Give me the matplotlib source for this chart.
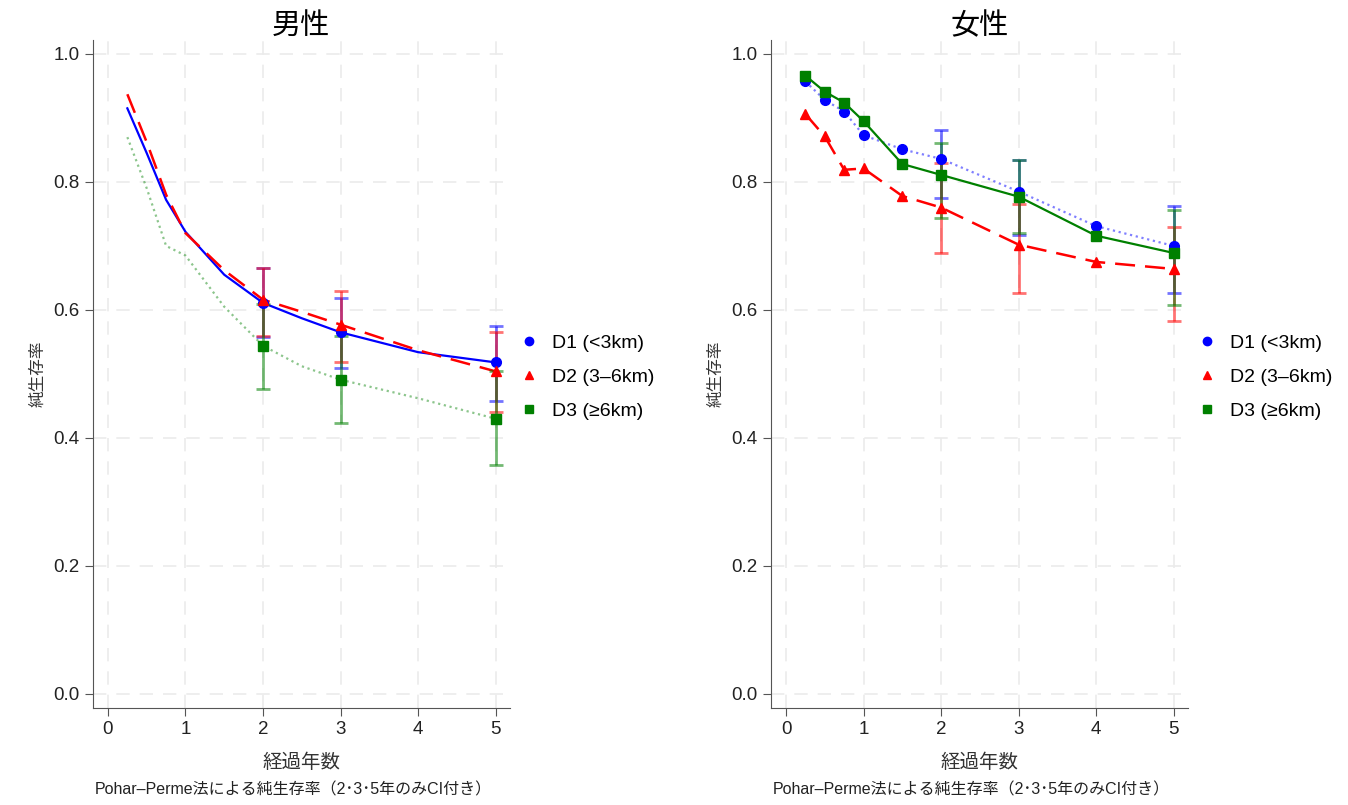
import numpy as np
import matplotlib.pyplot as plt
from matplotlib.lines import Line2D

plt.rcParams['font.family'] = ['Liberation Sans', 'Noto Sans CJK JP', 'DejaVu Sans']

labels = ["D1 (<3km)", "D2 (3–6km)", "D3 (≥6km)"]
colors = ["blue", "red", "green"]
markers = ["o", "^", "s"]

# 男性: curves
men_t = [0.25, 0.5, 0.75, 1, 1.5, 2, 2.5, 3, 4, 5]
men_d1 = [0.915, 0.845, 0.772, 0.722, 0.655, 0.611, 0.587, 0.565, 0.534, 0.518]
men_d2 = [0.937, 0.862, 0.780, 0.720, 0.662, 0.616, 0.597, 0.577, 0.537, 0.504]
men_d3 = [0.870, 0.790, 0.700, 0.685, 0.605, 0.544, 0.512, 0.491, 0.462, 0.430]
# 男性: CI at 2, 3, 5 years
ci_t = [2, 3, 5]
men_ci_d1 = [0.611, 0.565, 0.518]
men_lo_d1 = [0.557, 0.509, 0.457]
men_hi_d1 = [0.665, 0.618, 0.575]
men_ci_d2 = [0.616, 0.577, 0.504]
men_lo_d2 = [0.559, 0.518, 0.441]
men_hi_d2 = [0.665, 0.630, 0.566]
men_ci_d3 = [0.544, 0.491, 0.430]
men_lo_d3 = [0.477, 0.424, 0.358]
men_hi_d3 = [0.610, 0.560, 0.505]

# 女性
wom_t = [0.25, 0.5, 0.75, 1, 1.5, 2, 3, 4, 5]
wom_d1 = [0.957, 0.928, 0.910, 0.873, 0.851, 0.836, 0.785, 0.731, 0.700]
wom_d2 = [0.906, 0.871, 0.819, 0.821, 0.778, 0.760, 0.702, 0.675, 0.664]
wom_d3 = [0.966, 0.941, 0.924, 0.895, 0.828, 0.811, 0.777, 0.716, 0.689]
wom_ci_d1 = [0.836, 0.785, 0.700]
wom_lo_d1 = [0.775, 0.717, 0.626]
wom_hi_d1 = [0.881, 0.835, 0.762]
wom_ci_d2 = [0.760, 0.702, 0.664]
wom_lo_d2 = [0.689, 0.627, 0.582]
wom_hi_d2 = [0.830, 0.766, 0.730]
wom_ci_d3 = [0.811, 0.777, 0.689]
wom_lo_d3 = [0.743, 0.720, 0.608]
wom_hi_d3 = [0.861, 0.834, 0.756]

fig = plt.figure(figsize=(13.48, 8.05), dpi=100)
ax1 = fig.add_axes([0.069, 0.1205, 0.309, 0.830])
ax2 = fig.add_axes([0.572, 0.1205, 0.309, 0.830])


def style_axes(ax, title):
    ax.set_xlim(-0.193, 5.18)
    ax.set_ylim(-0.022, 1.022)
    ax.set_xticks([0, 1, 2, 3, 4, 5])
    ax.set_yticks([0.0, 0.2, 0.4, 0.6, 0.8, 1.0])
    ax.set_yticklabels(["0.0", "0.2", "0.4", "0.6", "0.8", "1.0"])
    ax.grid(True, color="#ebebeb", linestyle=(0, (8, 6)), linewidth=1.2)
    ax.set_axisbelow(True)
    for s in ["top", "right"]:
        ax.spines[s].set_visible(False)
    for s in ["left", "bottom"]:
        ax.spines[s].set_color("#555555")
    ax.tick_params(labelsize=13.5, color="#555555", length=6, labelcolor="#222222")
    ax.set_title(title, fontsize=21, pad=1)
    ax.set_xlabel("経過年数", fontsize=14, color="#333333", labelpad=11)
    ax.set_ylabel("純生存率", fontsize=12, color="#333333", labelpad=6)
    ax.text(0.48, -0.123, "Pohar–Perme法による純生存率（2･3･5年のみCI付き）",
            transform=ax.transAxes, ha="center", va="center", fontsize=11.5, color="#222222")
    handles = [Line2D([], [], color=c, marker=m, linestyle="none", markersize=6)
               for c, m in zip(colors, markers)]
    ax.legend(handles, labels, loc="center left", bbox_to_anchor=(1.0, 0.495),
              frameon=False, fontsize=14, handlelength=1.0, handletextpad=0.7,
              labelspacing=0.85, borderaxespad=0.1)


def draw_ci(ax, ci_v, lo, hi, c):
    ci_v = np.array(ci_v)
    err = [ci_v - np.array(lo), np.array(hi) - ci_v]
    ax.errorbar(ci_t, ci_v, yerr=err, fmt="none", ecolor=c, alpha=0.55,
                elinewidth=2, capsize=5, capthick=2)


# 男性
ax1.plot(men_t, men_d1, color="blue", linestyle="-", linewidth=1.6)
ax1.plot(men_t, men_d2, color="red", linestyle=(0, (8, 4)), linewidth=1.8)
ax1.plot(men_t, men_d3, color="green", linestyle=":", linewidth=1.6, alpha=0.45)
for v, lo, hi, c in [(men_ci_d1, men_lo_d1, men_hi_d1, "blue"),
                     (men_ci_d2, men_lo_d2, men_hi_d2, "red"),
                     (men_ci_d3, men_lo_d3, men_hi_d3, "green")]:
    draw_ci(ax1, v, lo, hi, c)
for v, c, m in [(men_ci_d1, "blue", "o"), (men_ci_d2, "red", "^"), (men_ci_d3, "green", "s")]:
    ax1.plot(ci_t, v, color=c, marker=m, linestyle="none", markersize=7)
style_axes(ax1, "男性")

# 女性
ax2.plot(wom_t, wom_d1, color="blue", linestyle=":", linewidth=1.6, alpha=0.5)
ax2.plot(wom_t, wom_d2, color="red", linestyle=(0, (8, 4)), linewidth=1.8)
ax2.plot(wom_t, wom_d3, color="green", linestyle="-", linewidth=1.6)
for v, lo, hi, c in [(wom_ci_d1, wom_lo_d1, wom_hi_d1, "blue"),
                     (wom_ci_d2, wom_lo_d2, wom_hi_d2, "red"),
                     (wom_ci_d3, wom_lo_d3, wom_hi_d3, "green")]:
    draw_ci(ax2, v, lo, hi, c)
ax2.plot(wom_t, wom_d1, color="blue", marker="o", linestyle="none", markersize=7)
ax2.plot(wom_t, wom_d2, color="red", marker="^", linestyle="none", markersize=7)
ax2.plot(wom_t, wom_d3, color="green", marker="s", linestyle="none", markersize=7)
style_axes(ax2, "女性")

fig.savefig("out.png", dpi=100)
